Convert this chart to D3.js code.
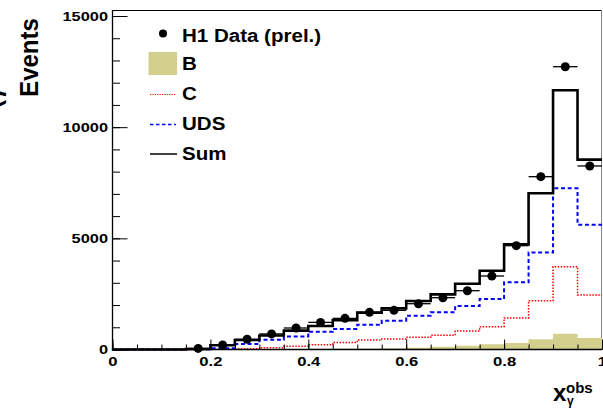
<!DOCTYPE html>
<html><head><meta charset="utf-8">
<script src="https://cdn.jsdelivr.net/npm/d3@7/dist/d3.min.js"></script>
<style>
html,body{margin:0;padding:0;background:#fff;}
svg{display:block;}
text{font-family:"Liberation Sans",Arial,Helvetica,sans-serif;font-weight:bold;fill:#000;}
</style></head>
<body>
<svg id="c" width="603" height="412"></svg>
<script>
// bin lower edges (width 0.05)
const binLow = [0.15,0.20,0.25,0.30,0.35,0.40,0.45,0.50,0.55,0.60,0.65,0.70,0.75,0.80,0.85,0.90,0.95];
const binWidth = 0.05;
const dataH1 = [50,200,460,700,967,1220,1400,1670,1760,2060,2330,2645,3306,4670,7773,12720,8255];
const sumMC  = [20,190,430,630,850,1060,1320,1660,1850,2180,2480,2960,3545,4730,7030,11660,8540];
const udsMC  = [10,60,250,440,590,800,925,1115,1295,1520,1673,1957,2272,3023,4360,7250,5615];
const cMC    = [0,15,30,80,144,216,315,427,472,549,639,832,1026,1417,2195,3725,2450];
const bMC    = [0,5,10,15,20,30,40,50,60,80,126,170,234,292,459,711,517];
const xTickVals = [0,0.2,0.4,0.6,0.8,1];
const xTickLabels = ["0","0.2","0.4","0.6","0.8","1"];
const yTickVals = [0,5000,10000,15000];
const yTickLabels = ["0","5000","10000","15000"];
const legendLabels = ["H1 Data (prel.)","B","C","UDS","Sum"];

const svg = d3.select("#c");
const x = d3.scaleLinear().domain([0,1]).range([112.5,602]);
const y = d3.scaleLinear().domain([0,15270]).range([349.5,10]);

// frame
svg.append("line").attr("x1",112).attr("x2",602).attr("y1",10.5).attr("y2",10.5).attr("stroke","#000").attr("stroke-width",1);
svg.append("line").attr("x1",601.5).attr("x2",601.5).attr("y1",10).attr("y2",350).attr("stroke","#888").attr("stroke-width",1);

function stepPts(vals){
  const pts=[[x.domain()[0],0]];
  binLow.forEach((b,i)=>pts.push([b,vals[i]]));
  pts.push([binLow[binLow.length-1]+binWidth, vals[vals.length-1]]);
  return pts;
}
const line = d3.line().x(d=>x(d[0])).y(d=>y(d[1])).curve(d3.curveStepAfter);
const area = d3.area().x(d=>x(d[0])).y0(y(0)).y1(d=>y(d[1])).curve(d3.curveStepAfter);

const khaki="#d3cf8c";
svg.append("path").attr("d",area(stepPts(bMC))).attr("fill",khaki).attr("stroke","none");
svg.append("path").attr("d",line(stepPts(cMC))).attr("fill","none").attr("stroke","#ff0000").attr("stroke-width",1.5).attr("stroke-dasharray","1.5,1.5");
svg.append("path").attr("d",line(stepPts(udsMC))).attr("fill","none").attr("stroke","#0000ff").attr("stroke-width",2).attr("stroke-dasharray","4,2.7");
svg.append("path").attr("d",line(stepPts(sumMC))).attr("fill","none").attr("stroke","#000").attr("stroke-width",2.6);

// data points
const g = svg.append("g");
binLow.forEach((b,i)=>{
  g.append("line").attr("x1",x(b)).attr("x2",x(b+binWidth)).attr("y1",y(dataH1[i])).attr("y2",y(dataH1[i])).attr("stroke","#000").attr("stroke-width",1.3);
  g.append("circle").attr("cx",x(b+binWidth/2)).attr("cy",y(dataH1[i])).attr("r",4.5).attr("fill","#000");
});

// axes
const xMinor = d3.range(0,1.0001,0.05);
const axMinX = d3.axisBottom(x).tickValues(xMinor).tickSize(-5).tickFormat("");
svg.append("g").attr("transform","translate(0,349.5)").call(axMinX).call(s=>s.select(".domain").remove());
const axX = d3.axisBottom(x).tickValues(xTickVals).tickSize(-10).tickPadding(7).tickFormat((d,i)=>xTickLabels[i]);
const gx = svg.append("g").attr("transform","translate(0,349.5)").call(axX);
gx.select(".domain").remove();
gx.selectAll("text").attr("font-size",13).attr("font-family","Liberation Sans, Arial").attr("font-weight","bold")
  .attr("transform","scale(1.28,1)").attr("x",0);
gx.selectAll("line").attr("stroke","#000");

const yMinor = d3.range(0,15001,1000);
const axMinY = d3.axisLeft(y).tickValues(yMinor).tickSize(-7.5).tickFormat("");
svg.append("g").attr("transform","translate(112.5,0)").call(axMinY).call(s=>s.select(".domain").remove());
const axY = d3.axisLeft(y).tickValues(yTickVals).tickSize(-15).tickPadding(4.5).tickFormat((d,i)=>yTickLabels[i]);
const gy = svg.append("g").attr("transform","translate(112.5,0)").call(axY);
gy.select(".domain").remove();
gy.selectAll("text").attr("font-size",13).attr("font-family","Liberation Sans, Arial").attr("font-weight","bold")
  .attr("transform",function(){return "translate("+d3.select(this).attr("x")+",0) scale(1.26,1)";}).attr("x",0);

svg.append("line").attr("x1",112.5).attr("x2",112.5).attr("y1",10).attr("y2",350.2).attr("stroke","#000").attr("stroke-width",1.3);
svg.append("line").attr("x1",111.8).attr("x2",602).attr("y1",349.5).attr("y2",349.5).attr("stroke","#000").attr("stroke-width",1.3);

// legend
const lg = svg.append("g");
const lgBase = [41.7,69.5,100,130,160];
const lgText = (t,i)=>lg.append("text").attr("font-size",18.5).attr("transform",`translate(182,${lgBase[i]}) scale(1.11,1)`).text(t);
legendLabels.forEach((t,i)=>lgText(t,i));
lg.append("circle").attr("cx",163).attr("cy",33.5).attr("r",4).attr("fill","#000");
lg.append("rect").attr("x",148.5).attr("y",52).attr("width",28.5).attr("height",23).attr("fill",khaki);
lg.append("line").attr("x1",150).attr("x2",176).attr("y1",94.5).attr("y2",94.5).attr("stroke","#ff0000").attr("stroke-width",1.2).attr("stroke-dasharray","1.2,1.2");
lg.append("line").attr("x1",150).attr("x2",176).attr("y1",124.5).attr("y2",124.5).attr("stroke","#0000ff").attr("stroke-width",1.3).attr("stroke-dasharray","3.5,2.5");
lg.append("line").attr("x1",150).attr("x2",177).attr("y1",154).attr("y2",154).attr("stroke","#000").attr("stroke-width",1.5);

// axis titles
svg.append("text").attr("font-size",24).attr("text-anchor","middle")
  .attr("transform","translate(38,57.5) scale(1.09,1) rotate(-90)").text("Events");
svg.append("text").attr("font-size",24).attr("text-anchor","start")
  .attr("transform","translate(0.5,108) rotate(-90)").text("(γ");
svg.append("text").attr("x",553).attr("y",401).attr("font-size",24).text("x");
svg.append("text").attr("x",566).attr("y",393).attr("font-size",15).text("obs");
svg.append("text").attr("x",567).attr("y",405).attr("font-size",12).text("γ");
</script>
</body></html>
